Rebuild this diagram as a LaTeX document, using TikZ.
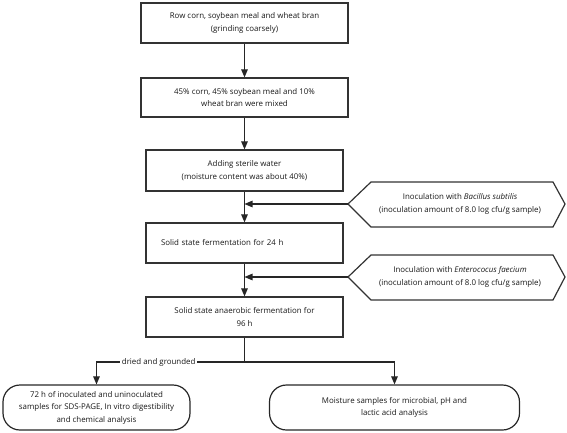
\documentclass[tikz,border=0pt]{standalone}
\usepackage{fontspec}
\setmainfont{Open Sans}
\usetikzlibrary{arrows.meta}
\begin{document}
\begin{tikzpicture}[x=1pt,y=-1pt,
  every node/.style={font=\fontsize{7.9}{12.5}\selectfont, text=black!90},
  boxA/.style={draw=black!80, line width=1.2pt, align=center, inner sep=0pt},
  hexbox/.style={draw=black!80, line width=1.2pt},
  roundbox/.style={draw=black!85, line width=1.2pt, rounded corners=17pt, align=center, inner sep=0pt},
  conn/.style={draw=black!85, line width=1.1pt},
  arr/.style={conn, -{Triangle[length=8pt,width=6.5pt]}},
  lbl/.style={fill=white, inner xsep=2pt, inner ysep=1pt}
]
\useasboundingbox (0,0) rectangle (567,433);

\node[boxA, minimum width=207pt, minimum height=40pt] (b1) at (244.5,23)
  {Row corn, soybean meal and wheat bran\\(grinding coarsely)};
\node[boxA, minimum width=207pt, minimum height=39pt] (b2) at (244.5,97.5)
  {45\% corn, 45\% soybean meal and 10\%\\wheat bran were mixed};
\node[boxA, minimum width=197pt, minimum height=41pt] (b3) at (244.5,170.5)
  {Adding sterile water\\(moisture content was about 40\%)};
\node[boxA, minimum width=197pt, minimum height=40pt, text width=177pt, align=left, inner xsep=10pt] (b4) at (244.5,243)
  {\hspace*{5pt}Solid state fermentation for 24 h};
\node[boxA, minimum width=197pt, minimum height=40pt] (b5) at (244.5,317)
  {Solid state anaerobic fermentation for\\96 h};

% hexagons
\draw[hexbox] (348,204) -- (371,182) -- (553,182) -- (565,204) -- (553,227) -- (371,227) -- cycle;
\coordinate (h1tip) at (348,204);
\node[align=center] (h1) at (460,204)
  {Inoculation with \textit{Bacillus subtilis}\\(inoculation amount of 8.0 log cfu/g sample)};
\draw[hexbox] (348,277) -- (371,255) -- (553,255) -- (565,277) -- (553,300) -- (371,300) -- cycle;
\coordinate (h2tip) at (348,277);
\node[align=center] (h2) at (460,277)
  {Inoculation with \textit{Enterococus faecium}\\(inoculation amount of 8.0 log cfu/g sample)};

% bottom boxes
\node[roundbox, minimum width=187pt, minimum height=45pt] (bl) at (96.5,407.5)
  {72 h of inoculated and uninoculated\\samples for SDS-PAGE, In vitro digestibility\\and chemical analysis};
\node[roundbox, minimum width=250pt, minimum height=45pt] (br) at (394.5,407.5)
  {Moisture samples for microbial, pH and\\lactic acid analysis};

% connectors
\draw[arr] (b1) -- (b2);
\draw[arr] (b2) -- (b3);
\draw[arr] (b3) -- (b4);
\draw[arr] (b4) -- (b5);
\draw[arr] (h1tip) -- (b3.south |- h1tip);
\draw[arr] (h2tip) -- (b4.south |- h2tip);

\coordinate (split) at (244.5,362);
\draw[conn] (b5) -- (split);
\draw[arr] (split) -| node[lbl, pos=0.29] {dried and grounded} (bl);
\draw[arr] (split) -| (br);
\end{tikzpicture}
\end{document}
